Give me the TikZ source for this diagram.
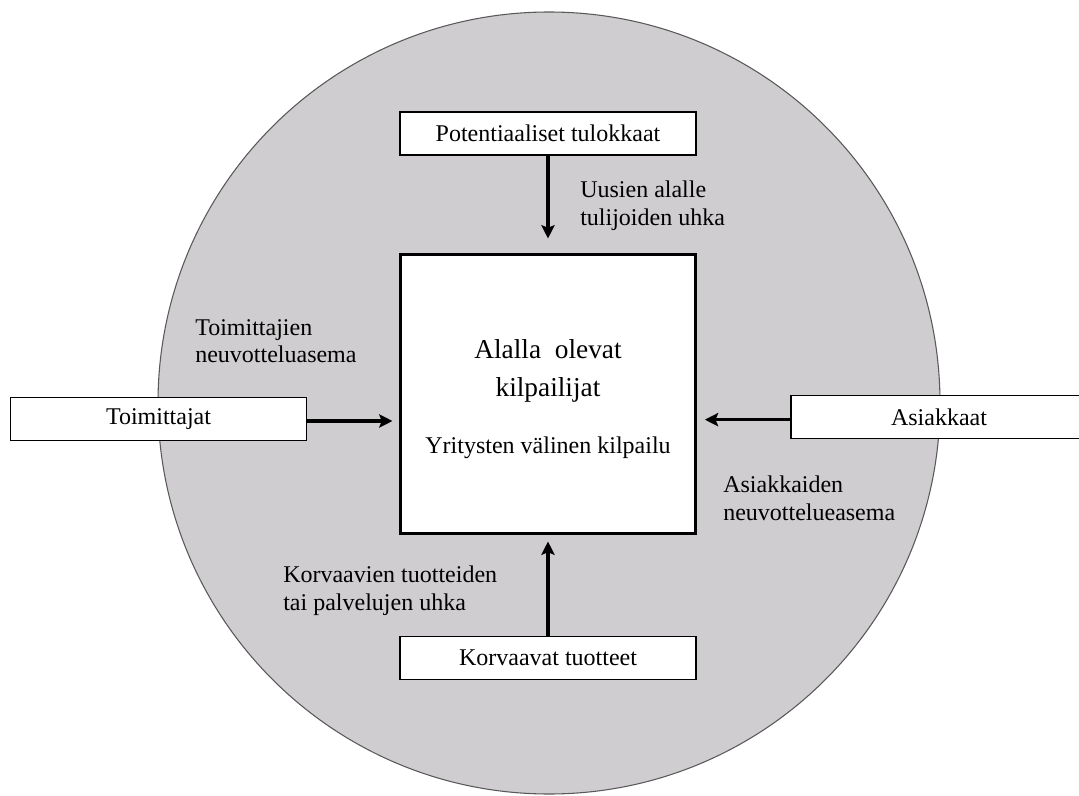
\documentclass[tikz,border=0pt]{standalone}
\usepackage{fontspec}
\setmainfont{Liberation Serif}
\usetikzlibrary{arrows.meta}
\definecolor{ringgray}{RGB}{207,205,207}

\begin{document}
\begin{tikzpicture}[
    x=0.75pt, y=-0.75pt,
    ring/.style={circle, draw=black!65, line width=0.8pt, fill=ringgray, minimum size=586.5pt, inner sep=0pt},
    forcebox/.style={draw, fill=white, line width=1.1pt, minimum width=222pt, minimum height=32pt, inner sep=0pt, font=\fontsize{18}{20}\selectfont},
    centerbox/.style={draw, fill=white, line width=2.3pt, minimum width=221pt, minimum height=209pt, inner sep=0pt},
    label/.style={anchor=north west, align=left, inner sep=0pt, font=\fontsize{18}{20.5}\selectfont},
    arrow/.style={-{Stealth[length=10pt, width=10pt, inset=2pt]}, line width=2.6pt}
  ]

  \useasboundingbox (0,0) rectangle (1079,796);

  % Industry circle in the background
  \node[ring] (industry) at (549,403) {};

  % Competitors in the middle
  \node[centerbox] (rivalry) at (548,394) {};
  \node[align=center, anchor=north, inner sep=0pt, font=\fontsize{20.5}{28.5}\selectfont] (rivaltitle) at (548,339) {Alalla\ \ olevat\\kilpailijat};
  \node[anchor=base, inner sep=0pt, font=\fontsize{18}{20}\selectfont] (rivalsub) at (548,453) {Yritysten välinen kilpailu};

  % The four forces
  \node[forcebox] (entrants) at (548,133.5) {Potentiaaliset tulokkaat};
  \node[forcebox] (suppliers) at (158.5,419) {Toimittajat};
  \node[forcebox] (customers) at (939,417) {Asiakkaat};
  \node[forcebox] (substitutes) at (548,658) {Korvaavat tuotteet};

  \draw[arrow, shorten >=11pt] (entrants.south) -- (entrants.south |- rivalry.north);
  \draw[arrow, shorten >=5pt] (substitutes.north) -- (substitutes.north |- rivalry.south);
  \draw[arrow, shorten >=5pt] ([yshift=-1.5pt]suppliers.east) -- ([yshift=-1.5pt]suppliers.east -| rivalry.west);
  \draw[arrow, shorten >=6pt] ([yshift=-2pt]customers.west) -- ([yshift=-2pt]customers.west -| rivalry.east);

  % Labels of the forces
  \node[label] (newthreat) at (580,181) {Uusien alalle\\tulijoiden uhka};
  \node[label] (supplierpower) at (195,319) {Toimittajien\\neuvotteluasema};
  \node[label] (buyerpower) at (723,476) {Asiakkaiden\\neuvottelueasema};
  \node[label] (substthreat) at (283,566) {Korvaavien tuotteiden\\tai palvelujen uhka};

\end{tikzpicture}
\end{document}
